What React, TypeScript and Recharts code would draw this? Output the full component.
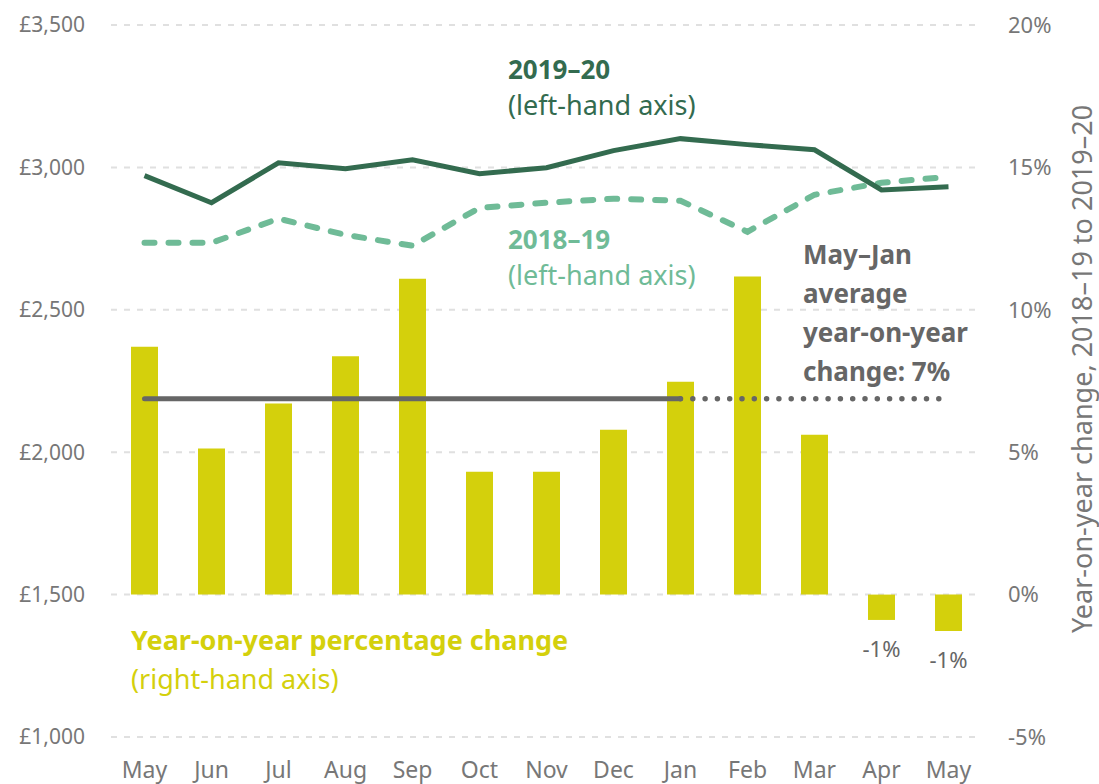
import React from 'react';
import { ComposedChart, Bar, Line, XAxis, YAxis, CartesianGrid, LabelList } from 'recharts';

// monthly data, May 2019 to May 2020
const months = ['May', 'Jun', 'Jul', 'Aug', 'Sep', 'Oct', 'Nov', 'Dec', 'Jan', 'Feb', 'Mar', 'Apr', 'May'];
const spend1920 = [2971, 2876, 3016, 2995, 3027, 2978, 2999, 3059, 3101, 3080, 3062, 2921, 2932];
const spend1819 = [2735, 2735, 2820, 2763, 2725, 2858, 2876, 2890, 2883, 2774, 2904, 2946, 2967];
const yoyChange = [8.7, 5.13, 6.71, 8.37, 11.09, 4.31, 4.31, 5.79, 7.47, 11.17, 5.61, -0.89, -1.28];
// May–Jan average, solid over May–Jan then dotted to the end
const avgSolid = [6.88, 6.88, 6.88, 6.88, 6.88, 6.88, 6.88, 6.88, 6.88, null, null, null, null];
const avgDotted = [null, null, null, null, null, null, null, null, 6.88, 6.88, 6.88, 6.88, 6.88];

const leftTicks = [1000, 1500, 2000, 2500, 3000, 3500];
const rightTicks = [-5, 0, 5, 10, 15, 20];

const data = months.map((month, i) => ({
  month,
  spend1920: spend1920[i],
  spend1819: spend1819[i],
  yoy: yoyChange[i],
  avgSolid: avgSolid[i],
  avgDotted: avgDotted[i],
}));

const FONT = '"Noto Sans", "Open Sans", sans-serif';
const DARK_GREEN = '#336b4f';
const LIGHT_GREEN = '#6fbb97';
const YELLOW = '#d4d00c';
const GREY = '#666666';
const AXIS_GREY = '#777777';

const NegativeLabel = (props: any) => {
  const { x, y, width, height, value } = props;
  if (value == null || value >= 0) return null;
  const bottom = Math.max(Number(y), Number(y) + Number(height));
  return (
    <text x={Number(x) + Number(width) / 2} y={bottom + 37} textAnchor="middle" fontSize={22} fill={GREY} fontFamily={FONT}>
      {Math.round(value)}%
    </text>
  );
};

export default function App() {
  return (
    <div style={{ position: 'absolute', left: 0, top: 0, width: 1099, height: 784, background: '#fff' }}>
      <ComposedChart
        width={1099}
        height={784}
        data={data}
        margin={{ top: 25, right: 0, bottom: 0, left: 0 }}
        style={{ fontFamily: FONT }}
      >
        <CartesianGrid yAxisId="left" vertical={false} stroke="#e0e0e0" strokeWidth={2} strokeDasharray="6 7" />
        <XAxis
          dataKey="month"
          height={47}
          axisLine={false}
          tickLine={false}
          tickSize={0}
          tickMargin={25}
          interval={0}
          tick={{ fill: AXIS_GREY, fontSize: 23 }}
        />
        <YAxis
          yAxisId="left"
          width={111}
          domain={[1000, 3500]}
          ticks={leftTicks}
          axisLine={false}
          tickLine={false}
          tickSize={0}
          tickMargin={26}
          tick={{ fill: AXIS_GREY, fontSize: 21 }}
          tickFormatter={(v: number) => `£${v.toLocaleString('en-GB')}`}
        />
        <YAxis
          yAxisId="right"
          orientation="right"
          width={117}
          domain={[-5, 20]}
          ticks={rightTicks}
          axisLine={false}
          tickLine={false}
          tickSize={0}
          tickMargin={26}
          tick={{ fill: AXIS_GREY, fontSize: 22 }}
          tickFormatter={(v: number) => `${v}%`}
        />
        <Bar yAxisId="right" dataKey="yoy" fill={YELLOW} barSize={27} isAnimationActive={false}>
          <LabelList dataKey="yoy" content={NegativeLabel} />
        </Bar>
        <Line
          yAxisId="right"
          dataKey="avgSolid"
          stroke={GREY}
          strokeWidth={5}
          strokeLinecap="round"
          dot={false}
          activeDot={false}
          connectNulls={false}
          isAnimationActive={false}
        />
        <Line
          yAxisId="right"
          dataKey="avgDotted"
          stroke={GREY}
          strokeWidth={5.5}
          strokeLinecap="round"
          strokeDasharray="0 12.3"
          dot={false}
          activeDot={false}
          connectNulls={false}
          isAnimationActive={false}
        />
        <Line
          yAxisId="left"
          type="linear"
          dataKey="spend1819"
          stroke={LIGHT_GREEN}
          strokeWidth={6}
          strokeLinecap="round"
          strokeDasharray="10 14"
          dot={false}
          activeDot={false}
          isAnimationActive={false}
        />
        <Line
          yAxisId="left"
          type="linear"
          dataKey="spend1920"
          stroke={DARK_GREEN}
          strokeWidth={5}
          dot={false}
          activeDot={false}
          isAnimationActive={false}
        />
      </ComposedChart>

      {/* annotations drawn over the chart */}
      <svg
        width={1099}
        height={784}
        style={{ position: 'absolute', left: 0, top: 0, pointerEvents: 'none', fontFamily: FONT }}
      >
        <text x={508} y={79} fontSize={26} fontWeight="bold" fill={DARK_GREEN}>2019–20</text>
        <text x={508} y={115} fontSize={27} fill={DARK_GREEN}>(left-hand axis)</text>

        <text x={508} y={249} fontSize={26} fontWeight="bold" fill={LIGHT_GREEN}>2018–19</text>
        <text x={508} y={285} fontSize={27} fill={LIGHT_GREEN}>(left-hand axis)</text>

        <text x={803} y={264} fontSize={26} fontWeight="bold" fill={GREY}>May–Jan</text>
        <text x={803} y={303} fontSize={26} fontWeight="bold" fill={GREY}>average</text>
        <text x={803} y={342} fontSize={26} fontWeight="bold" fill={GREY}>year-on-year</text>
        <text x={803} y={381} fontSize={26} fontWeight="bold" fill={GREY}>change: 7%</text>

        <text x={131} y={650} fontSize={27} fontWeight="bold" fill={YELLOW}>Year-on-year percentage change</text>
        <text x={131} y={689} fontSize={27} fill={YELLOW}>(right-hand axis)</text>

        <text
          transform="translate(1092,369) rotate(-90)"
          textAnchor="middle"
          fontSize={27}
          fill={AXIS_GREY}
        >
          Year-on-year change, 2018–19 to 2019–20
        </text>
      </svg>
    </div>
  );
}
